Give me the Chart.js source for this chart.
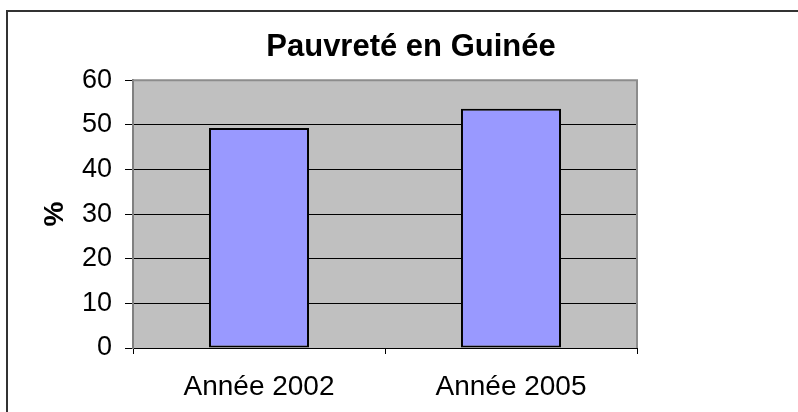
<!DOCTYPE html>
<html>
<head>
<meta charset="utf-8">
<script src="https://cdn.jsdelivr.net/npm/chart.js@4.4.1/dist/chart.umd.min.js"></script>
<style>
  html, body { margin: 0; padding: 0; background: #fff; }
  #wrap { position: relative; width: 798px; height: 412px; }
</style>
</head>
<body>
<div id="wrap"><canvas id="chart" width="798" height="412"></canvas></div>
<script>
const categories = ['Année 2002', 'Année 2005'];
const poverty = [49.3, 53.6];
const yTicks = [0, 10, 20, 30, 40, 50, 60];

const frame = {
    id: 'frame',
    beforeDraw(chart) {
        const { ctx, chartArea: a } = chart;
        ctx.save();
        ctx.fillStyle = '#ffffff';
        ctx.fillRect(0, 0, chart.width, chart.height);
        ctx.strokeStyle = '#333333';
        ctx.lineWidth = 2;
        ctx.strokeRect(7, 11, chart.width + 10, chart.height + 10);
        ctx.fillStyle = '#C0C0C0';
        ctx.fillRect(a.left, a.top, a.right - a.left, a.bottom - a.top);
        ctx.restore();
    },
    afterDatasetsDraw(chart) {
        const { ctx, chartArea: a } = chart;
        ctx.save();
        ctx.strokeStyle = '#8c8c8c';
        ctx.lineWidth = 2;
        ctx.beginPath();
        ctx.moveTo(a.left, a.top);
        ctx.lineTo(a.right, a.top);
        ctx.lineTo(a.right, a.bottom);
        ctx.stroke();
        ctx.restore();
    }
};

const font = 'Liberation Sans, Arial';

new Chart(document.getElementById('chart').getContext('2d'), {
    type: 'bar',
    data: {
        labels: categories,
        datasets: [{
            data: poverty,
            backgroundColor: '#9999FF',
            borderColor: '#000000',
            borderWidth: 2,
            borderSkipped: false,
            categoryPercentage: 1,
            barPercentage: 0.397
        }]
    },
    options: {
        responsive: false,
        animation: false,
        layout: { padding: { left: 24, right: 0, top: 0, bottom: 0 } },
        scales: {
            x: {
                grid: { offset: true, drawOnChartArea: false, tickLength: 6, color: '#000000' },
                border: { color: '#000000', width: 1 },
                ticks: { color: '#000000', font: { family: font, size: 28 }, padding: 16 },
                afterFit: s => { s.height = 64; }
            },
            y: {
                min: 0,
                max: 60,
                afterBuildTicks: s => { s.ticks = yTicks.map(v => ({ value: v })); },
                grid: {
                    color: c => (c.tick && c.tick.value === 60 ? 'rgba(0,0,0,0)' : '#000000'),
                    tickColor: '#000000',
                    tickLength: 8,
                    lineWidth: 1
                },
                border: { color: '#808080', width: 2 },
                ticks: { color: '#000000', font: { family: font, size: 27 }, padding: 13 },
                title: {
                    display: true,
                    text: '%',
                    color: '#000000',
                    font: { family: font, size: 28, weight: 'bold' },
                    padding: { top: 14, bottom: 0 }
                },
                afterFit: s => { s.width = 109; }
            },
            // empty right-hand axis that only reserves the space right of the plot
            spacer: {
                type: 'linear',
                position: 'right',
                display: true,
                grid: { display: false },
                border: { display: false },
                ticks: { display: false },
                afterFit: s => { s.width = 161; }
            }
        },
        plugins: {
            legend: { display: false },
            tooltip: { enabled: false },
            title: {
                display: true,
                text: 'Pauvreté en Guinée',
                color: '#000000',
                font: { family: font, size: 31, weight: 'bold' },
                padding: { top: 29, bottom: 14 }
            }
        }
    },
    plugins: [frame]
});
</script>
</body>
</html>
